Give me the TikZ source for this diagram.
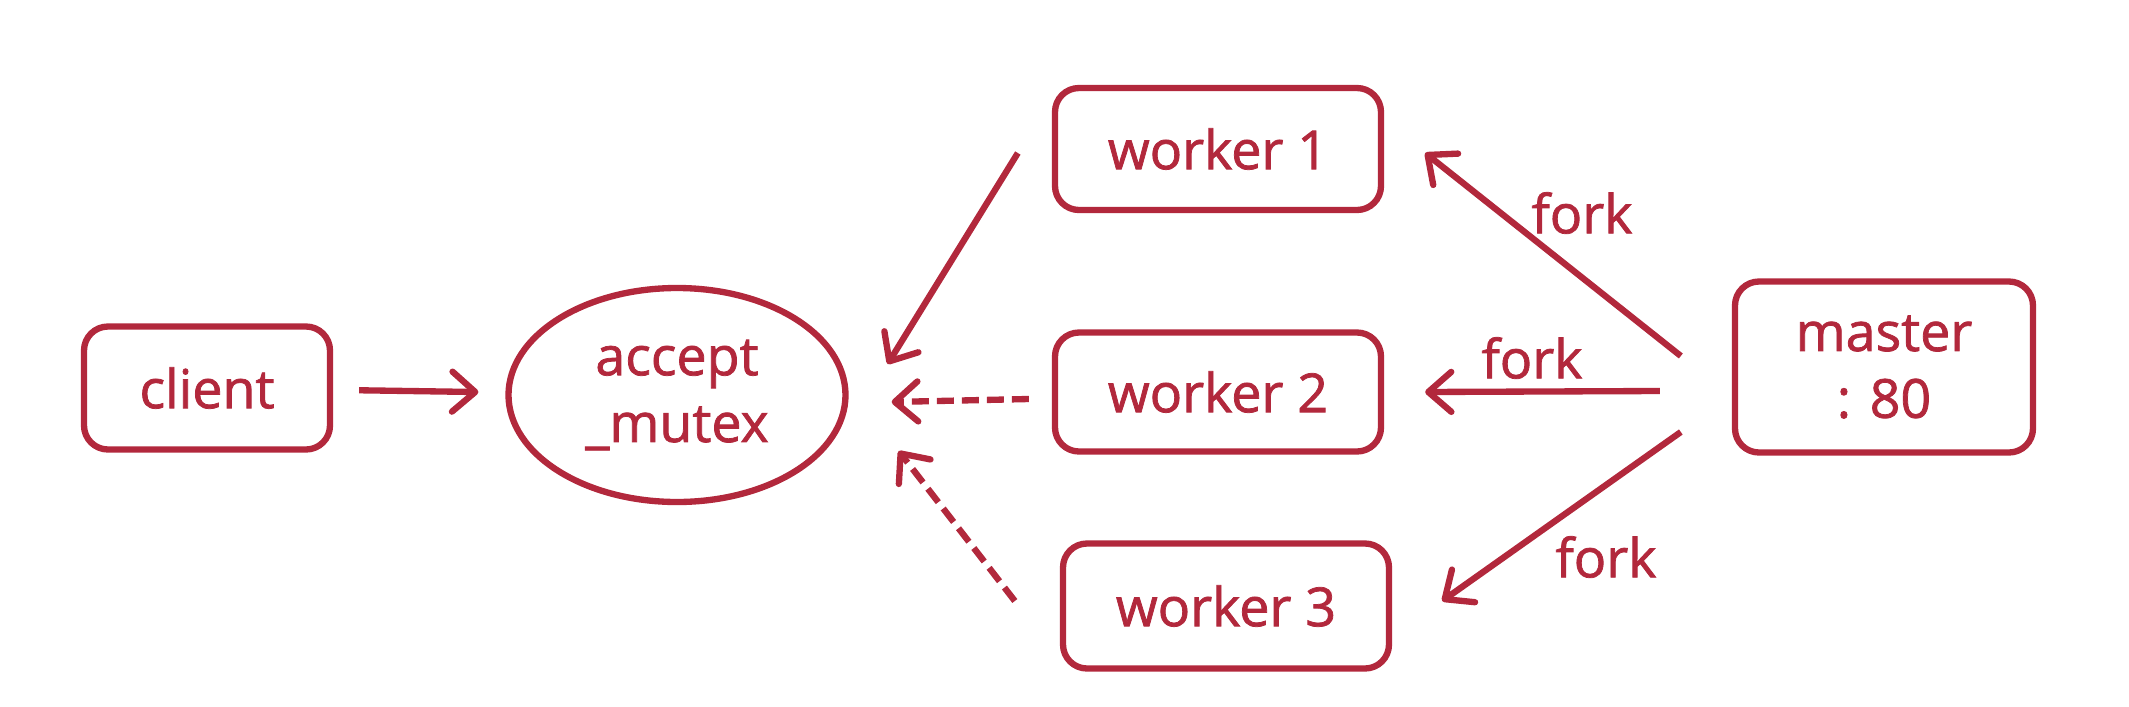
\documentclass[tikz,border=0pt]{standalone}
\usepackage{fontspec}
\setmainfont{Open Sans}
\newfontfamily\nodefont{Open Sans}[FakeBold=1.4]
\usetikzlibrary{arrows.meta,shapes.geometric}
\definecolor{nred}{RGB}{178,40,60}

\begin{document}
\begin{tikzpicture}[scale=1.0,
  txt/.style={text=nred,font=\nodefont\fontsize{15.3}{19}\selectfont,align=center},
  box/.style={txt,draw=nred,line width=1.8pt,rounded corners=0.24cm,minimum width=3.26cm,minimum height=1.2cm},
  arr/.style={draw=nred,line width=1.8pt,-{Straight Barb[round,length=2.3mm,width=4mm]}},
  darr/.style={arr,dash pattern=on 1.7mm off 0.8mm}]
  \useasboundingbox (0,0) rectangle (21.29,7.06);
  \node[box,minimum width=2.46cm,minimum height=1.23cm] (C) at (2.07,3.18) {client};
  \node[txt,ellipse,draw=nred,line width=1.8pt,inner sep=0pt,minimum width=3.37cm,minimum height=2.14cm] (M) at (6.77,3.11) {accept\\\_mutex};
  \node[box,minimum height=1.22cm] (W1) at (12.18,5.57) {worker 1};
  \node[box,minimum height=1.19cm] (W2) at (12.18,3.14) {worker 2};
  \node[box,minimum height=1.25cm] (W3) at (12.26,1.00) {worker 3};
  \node[box,minimum width=2.98cm,minimum height=1.71cm] (S) at (18.84,3.39) {master\\: 80};
  \draw[arr,shorten <=0.26cm,shorten >=0.27cm] (C) -- (M);
  \draw[arr] ([xshift=-3.4mm,yshift=-0.4mm]W1.west) -- ([xshift=3.9mm,yshift=3.1mm]M.east);
  \draw[darr] ([xshift=-2.3mm,yshift=-0.7mm]W2.west) -- ([xshift=4.3mm,yshift=-0.7mm]M.east);
  \draw[darr] ([xshift=-4.5mm,yshift=0.5mm]W3.west) -- ([xshift=5mm,yshift=-5.6mm]M.east);
  \draw[arr] ([xshift=-5.1mm,yshift=1.1mm]S.west) -- ([xshift=4.1mm,yshift=-0.4mm]W1.east);
  \draw[arr] ([xshift=-7.2mm,yshift=-2.4mm]S.west) -- ([xshift=4.1mm]W2.east);
  \draw[arr] ([xshift=-5.1mm,yshift=-6.5mm]S.west) -- ([xshift=5mm,yshift=0.5mm]W3.east);
  \node[txt] (F1) at (15.82,4.93) {fork};
  \node[txt] (F2) at (15.32,3.48) {fork};
  \node[txt] (F3) at (16.06,1.49) {fork};
\end{tikzpicture}
\end{document}
